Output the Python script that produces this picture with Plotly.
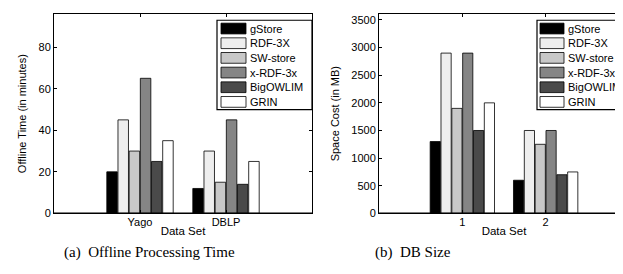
import plotly.graph_objects as go

# ---- data ----
systems = ["gStore", "RDF-3X", "SW-store", "x-RDF-3x", "BigOWLIM", "GRIN"]
fill_colors = ["#000000", "#eeeeee", "#c8c8c8", "#858585", "#4a4a4a", "#ffffff"]

time_datasets = ["Yago", "DBLP"]
time_yago = [20, 45, 30, 65, 25, 35]
time_dblp = [12, 30, 15, 45, 14, 25]

size_datasets = ["1", "2"]
size_1 = [1300, 2900, 1900, 2900, 1500, 2000]
size_2 = [600, 1500, 1250, 1500, 700, 750]

time_ticks = [0, 20, 40, 60, 80]
size_ticks = [0, 500, 1000, 1500, 2000, 2500, 3000, 3500]

# ---- layout helpers (pixel -> paper) ----
W, H = 623, 274
def px(x):
    return x / W
def py(y):
    return 1 - y / H

SANS = "Liberation Sans, Arial, sans-serif"
SERIF = "Liberation Serif, Times New Roman, serif"

fig = go.Figure()
for i, name in enumerate(systems):
    fig.add_trace(go.Bar(
        x=time_datasets, y=[time_yago[i], time_dblp[i]], name=name,
        marker=dict(color=fill_colors[i], line=dict(color="black", width=0.8)),
        xaxis="x", yaxis="y", showlegend=False))
for i, name in enumerate(systems):
    fig.add_trace(go.Bar(
        x=size_datasets, y=[size_1[i], size_2[i]], name=name,
        marker=dict(color=fill_colors[i], line=dict(color="black", width=0.8)),
        xaxis="x2", yaxis="y2", showlegend=False))

axis_common = dict(showline=True, linecolor="black", linewidth=1, mirror="ticks",
                   ticks="inside", ticklen=3, tickcolor="black", tickwidth=1,
                   showgrid=False, zeroline=False,
                   tickfont=dict(family=SANS, size=11, color="black"))

ydom = [py(210), py(6)]
fig.update_layout(
    width=W, height=H, margin=dict(l=0, r=0, t=0, b=0),
    paper_bgcolor="white", plot_bgcolor="white",
    barmode="group", bargap=0.22, bargroupgap=0.06,
    font=dict(family=SANS, size=11, color="black"),
    xaxis=dict(axis_common, domain=[px(46), px(304)], type="category", range=[-1, 2],
               ticklabelstandoff=-2,
               title=dict(text="Data Set", font=dict(size=11.5), standoff=0), anchor="y"),
    yaxis=dict(axis_common, domain=ydom, range=[0, 96], tickvals=time_ticks,
               title=dict(text="Offline Time (in minutes)", font=dict(size=11), standoff=9), anchor="x"),
    xaxis2=dict(axis_common, domain=[px(371), px(621)], type="category", range=[-1, 2],
                ticklabelstandoff=-2,
                title=dict(text="Data Set", font=dict(size=11.5), standoff=0), anchor="y2"),
    yaxis2=dict(axis_common, domain=ydom, range=[0, 3610], tickvals=size_ticks,
                title=dict(text="Space Cost (in MB)", font=dict(size=11), standoff=9), anchor="x2"),
)

shapes = []
annotations = []
# thick baselines
for xr, yr in (("x domain", "y"), ("x2 domain", "y2")):
    shapes.append(dict(type="line", xref=xr, yref=yr, x0=0, x1=1, y0=0, y1=0,
                       line=dict(color="black", width=2), layer="above"))

# custom legends (MATLAB-style wide swatches)
def add_legend(x0, x1, sw0, sw1, tx):
    shapes.append(dict(type="rect", xref="paper", yref="paper",
                       x0=px(x0), x1=px(x1), y0=py(104), y1=py(12.5),
                       line=dict(color="black", width=1.2), fillcolor="white", layer="above"))
    for i, name in enumerate(systems):
        cy = 21 + 15 * i
        shapes.append(dict(type="rect", xref="paper", yref="paper",
                           x0=px(sw0), x1=px(sw1), y0=py(cy + 5.5), y1=py(cy - 5.5),
                           line=dict(color="black", width=0.8), fillcolor=fill_colors[i],
                           layer="above"))
        annotations.append(dict(text=name, xref="paper", yref="paper", x=px(tx), y=py(cy),
                                xanchor="left", yanchor="middle", showarrow=False,
                                font=dict(family=SANS, size=11, color="black")))

add_legend(209, 304, 213, 238, 239.5)
add_legend(529, 621, 532, 556, 558)

# sub-captions
for text, cx in (("(a)  Offline Processing Time", 141), ("(b)  DB Size", 405)):
    annotations.append(dict(text=text, xref="paper", yref="paper", x=px(cx), y=py(250),
                            xanchor="center", yanchor="middle", showarrow=False,
                            font=dict(family=SERIF, size=15, color="black")))

fig.update_layout(shapes=shapes, annotations=annotations)
fig.write_html("out.html")
